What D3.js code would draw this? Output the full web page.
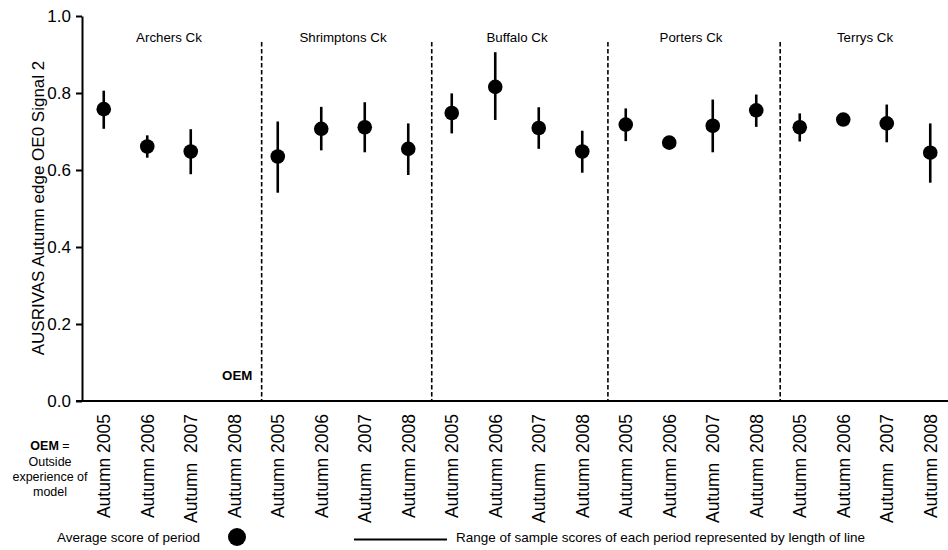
<!DOCTYPE html>
<html>
<head>
<meta charset="utf-8">
<script src="https://cdn.jsdelivr.net/npm/d3@7"></script>
<style>
body{margin:0;background:#fff;}
text{font-family:"Liberation Sans",Arial,sans-serif;fill:#000;}
</style>
</head>
<body>
<script>
// sites and periods
var sites = ["Archers Ck","Shrimptons Ck","Buffalo Ck","Porters Ck","Terrys Ck"]
var periods = ["Autumn 2005","Autumn 2006","Autumn  2007","Autumn 2008"]
// mean score, min and max of samples (null = OEM)
var means = [0.758,0.661,0.648,null, 0.635,0.707,0.711,0.655, 0.748,0.816,0.709,0.648, 0.718,0.671,0.715,0.755, 0.711,0.731,0.721,0.645]
var lows  = [0.707,0.632,0.589,null, 0.541,0.651,0.646,0.587, 0.695,0.730,0.655,0.593, 0.675,0.671,0.646,0.712, 0.674,0.731,0.672,0.567]
var highs = [0.806,0.690,0.706,null, 0.726,0.764,0.776,0.721, 0.799,0.906,0.763,0.702, 0.760,0.671,0.783,0.796, 0.747,0.731,0.770,0.721]
var yTicks = [0,0.2,0.4,0.6,0.8,1.0]
// separators sit between category indexes (not exactly midway)
var sepAt = [3.63,7.54,11.59,15.55]

var W = 948, H = 550
var svg = d3.select("body").append("svg").attr("width",W).attr("height",H)

var cats = []
for(i=0;i<sites.length;i++){
    for(j=0;j<periods.length;j++){
        cats.push({id:i+"_"+j, site:i, label:periods[j]})
    }
}

var x = d3.scalePoint().domain(cats.map(function(d){return d.id})).range([82,952]).padding(0.5)
var xi = d3.scaleLinear().domain([0,cats.length-1]).range([x(cats[0].id),x(cats[cats.length-1].id)])
var y = d3.scaleLinear().domain([0,1]).range([401,16])

// y axis
var yAxis = svg.append("g").attr("transform","translate(82,0)")
    .call(d3.axisLeft(y).tickValues(yTicks).tickFormat(d3.format(".1f")).tickSize(6).tickSizeOuter(0))
yAxis.select(".domain").attr("stroke-width",2)
yAxis.selectAll(".tick line").attr("stroke-width",2)
yAxis.selectAll(".tick text").style("font-size","17px").attr("x",-11)

// x axis line
svg.append("line").attr("x1",76).attr("x2",W).attr("y1",y(0)).attr("y2",y(0))
    .attr("stroke","#000").attr("stroke-width",2)

// x labels
svg.selectAll(".xlab").data(cats).enter().append("text")
    .attr("class","xlab")
    .attr("transform",function(d){return "translate("+(x(d.id)+6.5)+",414) rotate(-90)"})
    .attr("text-anchor","end")
    .style("font-size","17.5px")
    .style("white-space","pre")
    .text(function(d){return d.label})

// site separators
sepAt.forEach(function(s){
    svg.append("line").attr("x1",xi(s)).attr("x2",xi(s)).attr("y1",42).attr("y2",y(0))
        .attr("stroke","#000").attr("stroke-width",1.6).attr("stroke-dasharray","4.5,2.5")
})

// site names
svg.selectAll(".site").data(sites).enter().append("text")
    .attr("x",function(d,i){return (x(i+"_0")+x(i+"_3"))/2})
    .attr("y",41.5)
    .attr("text-anchor","middle")
    .style("font-size","13.3px")
    .text(function(d){return d})

// range lines
var pts = cats.map(function(d,k){return {id:d.id,m:means[k],lo:lows[k],hi:highs[k]}})
    .filter(function(d){return d.m!=null})
svg.selectAll(".rng").data(pts).enter().append("line")
    .attr("x1",function(d){return x(d.id)}).attr("x2",function(d){return x(d.id)})
    .attr("y1",function(d){return y(d.lo)}).attr("y2",function(d){return y(d.hi)})
    .attr("stroke","#000").attr("stroke-width",2.6)
svg.selectAll(".dot").data(pts).enter().append("circle")
    .attr("cx",function(d){return x(d.id)}).attr("cy",function(d){return y(d.m)})
    .attr("r",7.3).attr("fill","#000")

// OEM marker
svg.append("text").attr("x",x("0_3")+3).attr("y",380).attr("text-anchor","middle")
    .style("font-size","13.3px").style("font-weight","bold").text("OEM")

// y title
svg.append("text").attr("transform","translate(44,208) rotate(-90)")
    .attr("text-anchor","middle").style("font-size","17px")
    .text("AUSRIVAS Autumn edge OE0 Signal 2")

// OEM note
var note = svg.append("text").attr("text-anchor","middle").style("font-size","12.5px")
var t1 = note.append("tspan").attr("x",50).attr("y",450)
t1.append("tspan").style("font-weight","bold").text("OEM")
t1.append("tspan").text(" =")
note.append("tspan").attr("x",50).attr("y",466).text("Outside")
note.append("tspan").attr("x",50).attr("y",481).text("experience of")
note.append("tspan").attr("x",50).attr("y",496).text("model")

// legend
svg.append("text").attr("x",57).attr("y",541.5).style("font-size","13.5px").text("Average score of period")
svg.append("circle").attr("cx",237).attr("cy",537).attr("r",9).attr("fill","#000")
svg.append("line").attr("x1",354).attr("x2",447).attr("y1",539.5).attr("y2",539.5)
    .attr("stroke","#000").attr("stroke-width",2)
svg.append("text").attr("x",456).attr("y",541.5).style("font-size","13.5px")
    .text("Range of sample scores of each period represented by length of line")
</script>
</body>
</html>
